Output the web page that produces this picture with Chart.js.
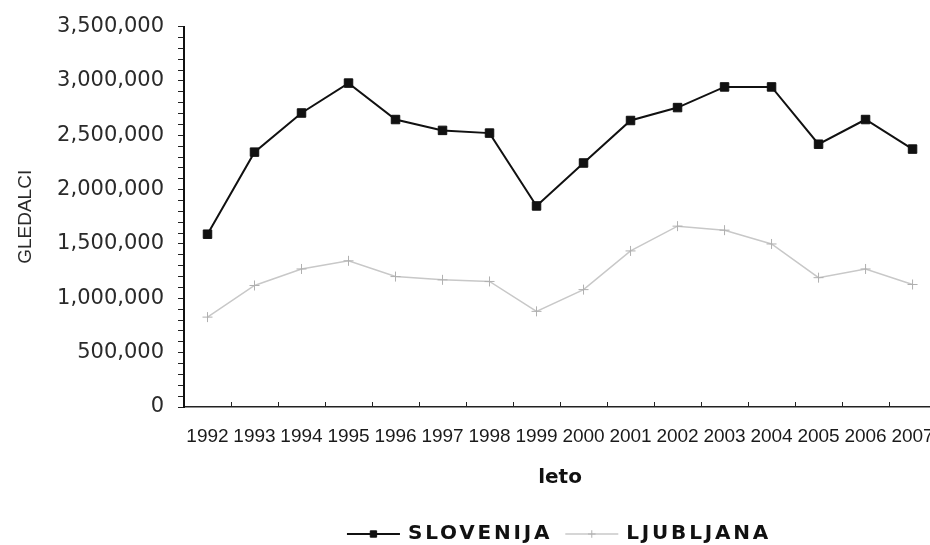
<!DOCTYPE html>
<html>
<head>
<meta charset="utf-8">
<script src="https://cdn.jsdelivr.net/npm/chart.js@4/dist/chart.umd.min.js"></script>
<style>
  html, body { margin: 0; padding: 0; background: #fff; overflow: hidden; }
  #wrap { width: 952px; height: 545px; }
</style>
</head>
<body>
<div id="wrap"><canvas id="c" width="952" height="545"></canvas></div>
<script>
// ---- data ----
const years = ['1992','1993','1994','1995','1996','1997','1998','1999','2000','2001','2002','2003','2004','2005','2006','2007'];
const slovenija = [1590000, 2345000, 2705000, 2980000, 2645000, 2545000, 2520000, 1850000, 2245000, 2636000, 2755000, 2945000, 2945000, 2418000, 2645000, 2373000];
const ljubljana = [827000, 1118000, 1270000, 1345000, 1200000, 1170000, 1155000, 880000, 1080000, 1436000, 1664000, 1627000, 1500000, 1190000, 1270000, 1127000];
const seriesNames = ['SLOVENIJA', 'LJUBLJANA'];
const yTitle = 'GLEDALCI';
const xTitle = 'leto';
const yMin = 0, yMax = 3500000, yMinorStep = 100000, yMajorStep = 500000;

Chart.defaults.font.family = "'Liberation Sans', Arial, sans-serif";
Chart.defaults.color = '#222';

// inward tick marks on the x axis, at category boundaries
const xInwardTicks = {
  id: 'xInwardTicks',
  afterDatasetsDraw(chart) {
    const xs = chart.scales.x, ctx = chart.ctx, bottom = chart.chartArea.bottom;
    ctx.save();
    ctx.strokeStyle = '#222';
    ctx.lineWidth = 1;
    for (let i = 1; i < years.length; i++) {
      const x = Math.round((xs.getPixelForValue(i - 1) + xs.getPixelForValue(i)) / 2) + 0.5;
      ctx.beginPath();
      ctx.moveTo(x, bottom);
      ctx.lineTo(x, bottom - 5);
      ctx.stroke();
    }
    ctx.restore();
  }
};

// legend with letter-spaced bold text, built from the datasets
const spacedLegend = {
  id: 'spacedLegend',
  afterDraw(chart) {
    const ctx = chart.ctx;
    const ds = chart.data.datasets;
    const y = 534;
    const sampleW = 53, gapAfterSample = 8, gapBetween = 13;
    ctx.save();
    ctx.font = "bold 20px 'DejaVu Sans'";
    ctx.letterSpacing = '2.8px';
    const widths = ds.map(d => ctx.measureText(d.label).width);
    let total = 0;
    widths.forEach((w, i) => { total += sampleW + gapAfterSample + w + (i < ds.length - 1 ? gapBetween : 0); });
    const center = 559;
    let x = center - total / 2;
    ds.forEach((d, i) => {
      ctx.strokeStyle = d.borderColor;
      ctx.lineWidth = d.borderWidth;
      ctx.beginPath();
      ctx.moveTo(x, y); ctx.lineTo(x + sampleW, y);
      ctx.stroke();
      ctx.fillStyle = d.pointBackgroundColor;
      ctx.strokeStyle = d.pointBorderColor;
      ctx.lineWidth = d.pointBorderWidth || 1;
      Chart.helpers.drawPoint(ctx, {
        pointStyle: d.pointStyle, radius: d.pointRadius * 0.75, borderWidth: d.pointBorderWidth || 1, rotation: 0
      }, x + sampleW / 2, y);
      x += sampleW + gapAfterSample;
      ctx.fillStyle = '#111';
      ctx.textBaseline = 'middle';
      ctx.textAlign = 'left';
      ctx.fillText(d.label, x, y);
      x += widths[i] + gapBetween;
    });
    ctx.restore();
  }
};

new Chart(document.getElementById('c'), {
  type: 'line',
  data: {
    labels: years,
    datasets: [
      {
        label: seriesNames[0],
        data: slovenija,
        borderColor: '#111',
        borderWidth: 2,
        pointStyle: 'rect',
        pointRadius: 6,
        pointBackgroundColor: '#111',
        pointBorderColor: '#111',
        pointBorderWidth: 1,
        tension: 0
      },
      {
        label: seriesNames[1],
        data: ljubljana,
        borderColor: '#c8c8c8',
        borderWidth: 1.5,
        pointStyle: 'cross',
        pointRadius: 5,
        pointBackgroundColor: '#b0b0b0',
        pointBorderColor: '#b0b0b0',
        pointBorderWidth: 1,
        tension: 0
      }
    ]
  },
  options: {
    responsive: false,
    animation: false,
    layout: { padding: { top: 22, right: 10, bottom: 48, left: 0 } },
    plugins: { legend: { display: false }, tooltip: { enabled: false } },
    scales: {
      x: {
        type: 'category',
        offset: true,
        grid: { display: false, drawTicks: false },
        border: { display: true, color: '#222', width: 1.5 },
        ticks: {
          autoSkip: false, maxRotation: 0, minRotation: 0, padding: 18,
          color: '#1a1a1a',
          font: { size: 19, family: "'Liberation Sans'" }
        },
        title: {
          display: true, text: xTitle, color: '#111',
          font: { size: 20, weight: 'bold', family: "'DejaVu Sans'" },
          padding: { top: 0, bottom: 7 }
        },
        afterFit(scale) { scale.height = 90; }
      },
      y: {
        min: yMin, max: yMax,
        grid: { display: true, drawOnChartArea: false, drawTicks: true, tickLength: 6, color: '#222', lineWidth: 1 },
        border: { display: true, color: '#111', width: 2 },
        ticks: {
          stepSize: yMinorStep, autoSkip: false, padding: 14,
          color: '#2a2a2a',
          font: { size: 21, family: "'DejaVu Sans'" },
          callback: (v) => (v % yMajorStep === 0 ? v.toLocaleString('en-US') : '')
        },
        title: {
          display: true, text: yTitle, color: '#2a2a2a',
          font: { size: 19, family: "'Liberation Sans'" },
          padding: { top: 14, bottom: 0 }
        },
        afterFit(scale) { scale.width = 184; }
      }
    }
  },
  plugins: [xInwardTicks, spacedLegend]
});
</script>
</body>
</html>
